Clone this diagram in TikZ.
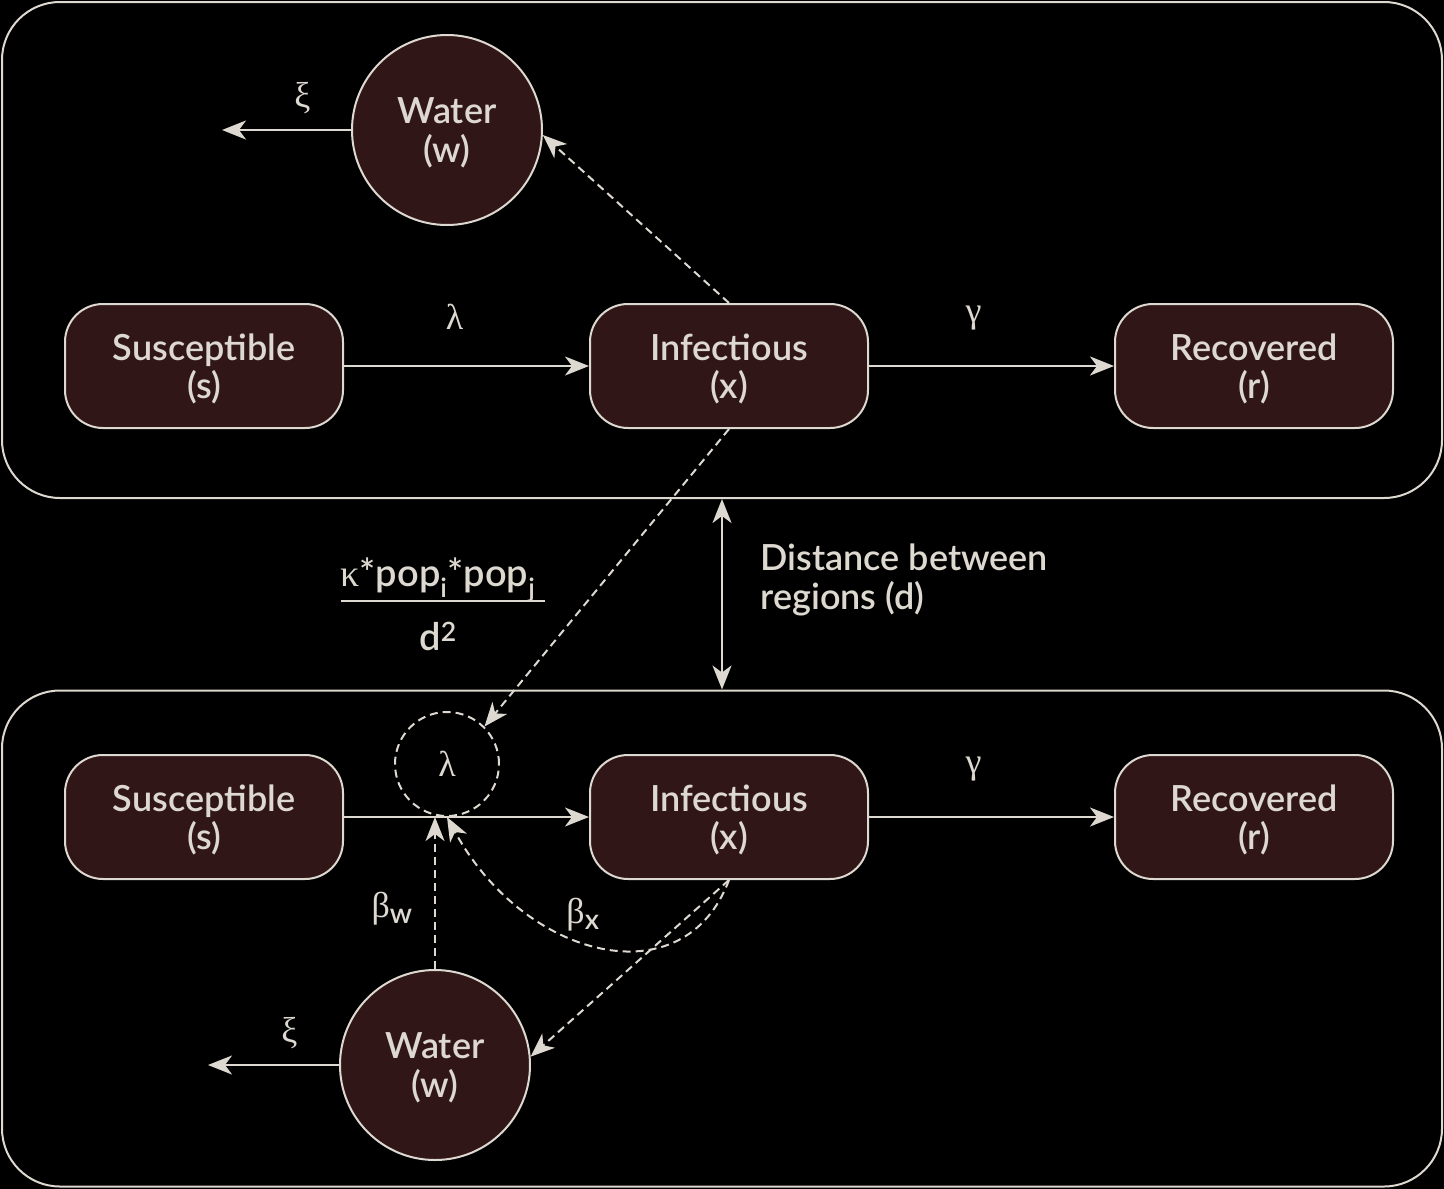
\documentclass[tikz,border=0pt]{standalone}
\usepackage{fontspec}
\setmainfont{Lato Semibold}
\newfontfamily\grk{Liberation Serif}
\usetikzlibrary{arrows.meta, positioning, calc}

\definecolor{edge}{RGB}{221,216,208}
\definecolor{boxfill}{RGB}{49,22,24}

\begin{document}
\begin{tikzpicture}[
  x=1pt, y=-1pt,
  font=\fontsize{36}{38.5}\selectfont,
  region/.style={draw=edge, line width=2pt, rounded corners=58pt,
                 minimum width=1440pt, minimum height=496pt, inner sep=0pt},
  comp/.style={draw=edge, fill=boxfill, line width=2pt, rounded corners=38pt,
               minimum width=278pt, minimum height=124pt, align=center,
               text=edge, inner sep=0pt, text depth=0pt},
  water/.style={draw=edge, fill=boxfill, line width=2pt, circle,
                minimum size=190pt, align=center, text=edge, inner sep=0pt,
                text depth=0pt},
  rate/.style={text=edge, font=\fontsize{36}{40}\selectfont\grk},
  arr/.style={-{Stealth[length=24pt, width=19pt, inset=7pt]}, line width=2pt, draw=edge},
  dasharr/.style={arr, dash pattern=on 8pt off 5pt},
  node distance=245pt
]
\fill[black] (0,0) rectangle (1444,1189);

% regions
\node[region] (top) at (722,250) {};
\node[region] (bot) at (722,938.5) {};

% upper region
\node[comp] (stop) at (204,366) {Susceptible\\(s)};
\node[comp, right=of stop] (itop) {Infectious\\(x)};
\node[comp, right=of itop] (rtop) {Recovered\\(r)};
\node[water] (wtop) at (447,130) {Water\\(w)};
\coordinate (xitop) at (222,130);

\draw[arr] (stop) -- node[rate, above=32pt, xshift=-12pt] {λ} (itop);
\draw[arr] (itop) -- node[rate, above=32pt, xshift=-18pt] {γ} (rtop);
\draw[dasharr] (itop.north) -- (wtop.-3);
\draw[arr] (wtop) -- node[rate, above=12pt, xshift=16pt] {ξ} (xitop);

% link between regions
\draw[arr, {Stealth[length=24pt, width=19pt, inset=7pt]}-{Stealth[length=24pt, width=19pt, inset=7pt]}]
  (top.south) -- (bot.north);
\node[text=edge, align=left, anchor=west] (dist) at (757,580) {Distance between\\regions (d)};
\node[text=edge, inner sep=0pt, font=\fontsize{38}{40}\selectfont] (frac) at (443,610)
  {\begin{tabular}{@{\hspace{0pt}}c@{\hspace{10pt}}}
     {\grk κ}*pop\textsubscript{i}*pop\textsubscript{j}\\[-2pt]
     \noalign{\color{edge}\hrule height 2pt}\\[-20pt]
     d\textsuperscript{2}
   \end{tabular}};

% lower region
\node[comp] (sbot) at (204,817) {Susceptible\\(s)};
\node[comp, right=of sbot] (ibot) {Infectious\\(x)};
\node[comp, right=of ibot] (rbot) {Recovered\\(r)};
\node[water] (wbot) at (435,1065) {Water\\(w)};
\node[draw=edge, line width=2pt, dash pattern=on 8pt off 5pt, circle,
      minimum size=104pt, rate, inner sep=0pt] (lam) at (447,764) {λ};
\coordinate (xibot) at (208,1065);

\draw[arr] (sbot) -- (ibot);
\draw[arr] (ibot) -- node[rate, above=32pt, xshift=-18pt] {γ} (rbot);
\draw[dasharr] (itop.south) -- (lam.45);
\draw[dasharr] (wbot.north) -- node[rate, left=18pt, yshift=-16pt]
  {β\textsubscript{\normalfont\fontsize{28}{30}\selectfont w}} (wbot.north |- lam.south);
\draw[dasharr] (ibot.south) .. controls +(-45,120) and +(77,142) .. (lam.south);
\node[rate] (bx) at (583,915) {β\textsubscript{\normalfont\fontsize{28}{30}\selectfont x}};
\draw[dasharr] (ibot.south) -- (wbot.5);
\draw[arr] (wbot) -- node[rate, above=12pt, xshift=16pt] {ξ} (xibot);
\end{tikzpicture}
\end{document}
